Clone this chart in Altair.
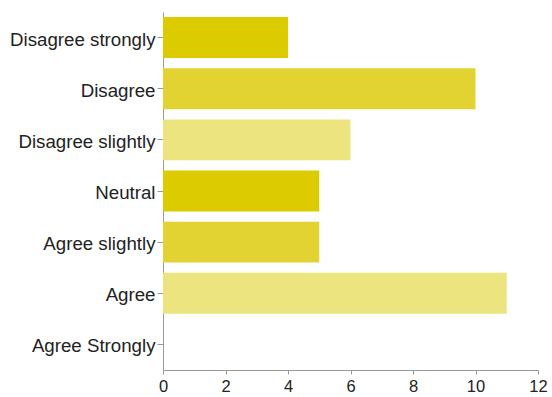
import altair as alt
import pandas as pd

categories = ["Disagree strongly", "Disagree", "Disagree slightly", "Neutral",
              "Agree slightly", "Agree", "Agree Strongly"]
counts = [4, 10, 6, 5, 5, 11, 0]
shades = ["#dccb00", "#e2d332", "#ece47f", "#dccb00", "#e2d332", "#ece47f", "#dccb00"]

df = pd.DataFrame({"cat": categories, "count": counts, "shade": shades})

chart = alt.Chart(df).mark_bar().encode(
    y=alt.Y("cat:N", sort=categories, title=None,
            scale=alt.Scale(paddingInner=0.2, paddingOuter=0.1),
            axis=alt.Axis(labelFont="Liberation Sans", labelFontSize=18.7, labelColor="#222",
                          tickColor="#999", tickSize=6, domainColor="#999", labelPadding=2,
                          labelOffset=2, grid=False)),
    x=alt.X("count:Q", title=None, scale=alt.Scale(domain=[0, 12]),
            axis=alt.Axis(values=[0, 2, 4, 6, 8, 10, 12], labelFont="Liberation Sans",
                          labelFontSize=16.5, labelColor="#222", tickColor="#999", tickSize=4,
                          domainColor="#999", grid=False, labelPadding=4, labelFlush=False)),
    color=alt.Color("shade:N", scale=None),
).properties(
    width=375, height=358,
    autosize=alt.AutoSizeParams(type="none"),
    padding={"left": 163, "top": 12, "right": 14, "bottom": 27},
).configure_view(stroke=None)

chart.save("out.html", embed_options={"renderer": "svg", "actions": False})
